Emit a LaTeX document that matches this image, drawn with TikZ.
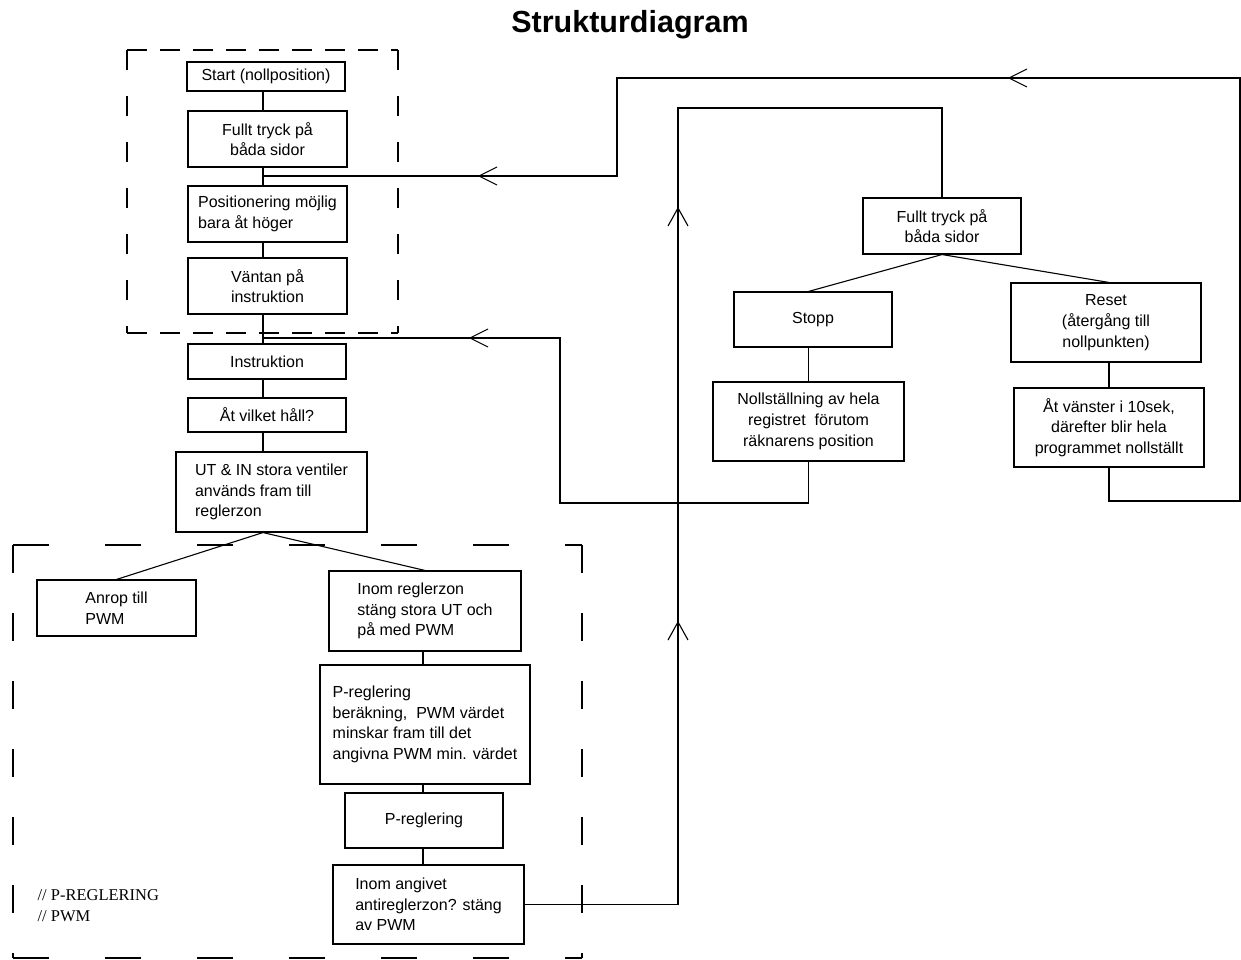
\documentclass[tikz,border=0pt]{standalone}
\usepackage{fontspec}
\setmainfont{Liberation Sans}
\newfontfamily\notefont{Liberation Serif}
\begin{document}
\begin{tikzpicture}[x=1pt,y=-1pt,line width=1.1pt,
  box/.style={draw, inner sep=0pt, font=\fontsize{16pt}{20.7pt}\selectfont},
  ctext/.style={align=center},
  ltext/.style={align=left},
  bx/.style n args={2}{minimum width=#1pt, minimum height=#2pt},
  dHa/.style={dash pattern=on 20pt off 13pt},
  dVa/.style={dash pattern=on 20pt off 26pt},
  dHb/.style={dash pattern=on 36pt off 56pt},
  dVb/.style={dash pattern=on 28pt off 40pt},
  vleft/.pic={\draw (18,-9) -- (0,0) -- (18,9);},
  vup/.pic={\draw (-10,18) -- (0,0) -- (10,18);},
]
\useasboundingbox (0,0) rectangle (1241,960);

% title
\node[font=\bfseries\fontsize{30.5pt}{36pt}\selectfont] (title) at (630,25) {Strukturdiagram};

% dashed groups
\draw[dHa] (127,50) -- (398,50);
\draw[dHa] (127,333) -- (398,333);
\draw[dVa] (127,50) -- (127,333);
\draw[dVa] (398,50) -- (398,333);
\draw[dHb] (13,545) -- (582,545);
\draw[dHb] (13,958) -- (582,958);
\draw[dVb] (13,545) -- (13,958);
\draw[dVb] (582,545) -- (582,958);

% main column
\node[box,ctext,bx={158}{29}] (start) at (266,76.5) {Start (nollposition)};
\node[box,ctext,bx={159}{56}] (full1) at (267.5,139) {Fullt tryck på\\båda sidor};
\node[box,ltext,bx={159}{56}] (pos) at (267.5,214) {Positionering möjlig\\bara åt höger};
\node[box,ctext,bx={159}{56}] (vant) at (267.5,286) {Väntan på\\instruktion};
\node[box,ctext,bx={158}{35}] (instr) at (267,361.5) {Instruktion};
\node[box,ctext,bx={158}{34}] (hall) at (267,415) {Åt vilket håll?};
\node[box,ltext,bx={191}{80}] (utin) at (271.5,492) {UT \& IN stora ventiler\\används fram till\\reglerzon};

% regulation branch
\node[box,ltext,bx={159}{56}] (anrop) at (116.5,608) {Anrop till\\PWM};
\node[box,ltext,bx={192}{80}] (inom1) at (425,611) {Inom reglerzon\\stäng stora UT och\\på med PWM};
\node[box,ltext,bx={210}{119}] (preg1) at (425,724.5) {P-reglering\\beräkning,\ \ PWM värdet\\minskar fram till det\\angivna PWM min. värdet};
\node[box,ctext,bx={158}{55}] (preg2) at (424,820.5) {P-reglering};
\node[box,ltext,bx={191}{79}] (inom2) at (428.5,904.5) {Inom angivet\\antireglerzon? stäng\\av PWM};

% stop / reset branch
\node[box,ctext,bx={158}{56}] (full2) at (942,226) {Fullt tryck på\\båda sidor};
\node[box,ctext,bx={158}{55}] (stopp) at (813,319.5) {Stopp};
\node[box,ctext,bx={191}{79}] (noll) at (808.5,421.5) {Nollställning av hela\\registret\ \ förutom\\räknarens position};
\node[box,ctext,bx={190}{79}] (reset) at (1106,322.5) {Reset\\(återgång till\\nollpunkten)};
\node[box,ctext,bx={190}{79}] (atv) at (1109,427.5) {Åt vänster i 10sek,\\därefter blir hela\\programmet nollställt};

% comments
\node[anchor=west, align=left, inner sep=0pt, font=\notefont\fontsize{16.5pt}{21pt}\selectfont] (note) at (37,905.5) {// P-REGLERING\\// PWM};

% spines
\coordinate (sp) at (263,0);
\coordinate (sp2) at (423,0);
\coordinate (jA) at (263,338);
\coordinate (jB) at (263,176);

\draw (sp |- start.south) -- (sp |- full1.north);
\draw (sp |- full1.south) -- (sp |- pos.north);
\draw (sp |- pos.south) -- (sp |- vant.north);
\draw (sp |- vant.south) -- (sp |- instr.north);
\draw (sp |- instr.south) -- (sp |- hall.north);
\draw (sp |- hall.south) -- (sp |- utin.north);
\draw (anrop.north) -- (sp |- utin.south) -- (inom1.north);

\draw (sp2 |- inom1.south) -- (sp2 |- preg1.north);
\draw (sp2 |- preg1.south) -- (sp2 |- preg2.north);
\draw (sp2 |- preg2.south) -- (sp2 |- inom2.north);

\draw (noll.north |- stopp.north) -- (full2.south) -- (atv.north |- reset.north);
\draw (noll.north |- stopp.south) -- (noll.north);
\draw (atv.north |- reset.south) -- (atv.north);

% return paths
\draw (noll.south) |- (560,503) |- (jA);
\draw (atv.south) |- (1240,501) -- (1240,78) -| (617,176) -- (jB);
\draw (inom2.east) -| (678,108) -| (full2.north);

% direction marks
\pic at (470,338) {vleft};
\pic at (479,176) {vleft};
\pic at (1009,78) {vleft};
\pic at (678,208) {vup};
\pic at (678,622) {vup};
\end{tikzpicture}
\end{document}
